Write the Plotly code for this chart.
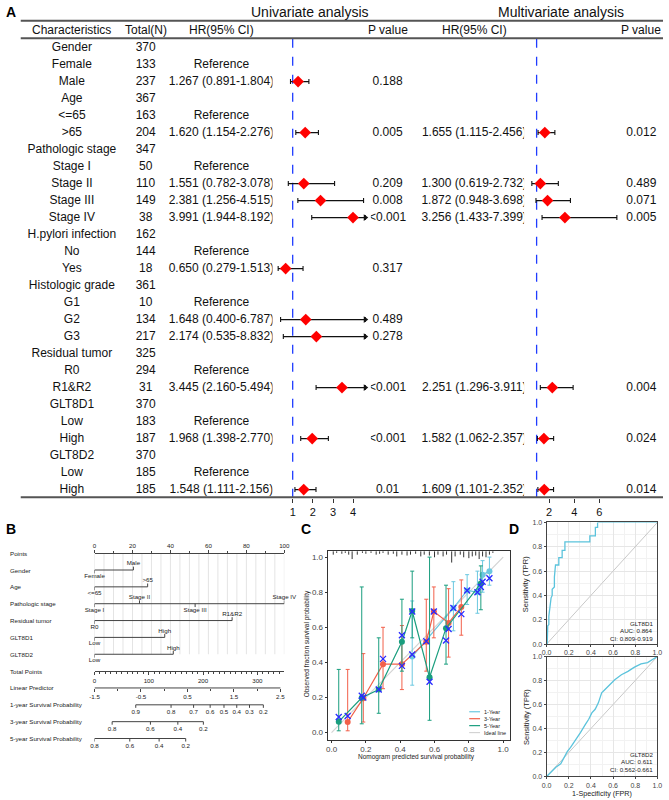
import plotly.graph_objects as go

W, H = 669, 800
FONT = "Arial, Liberation Sans, Helvetica, sans-serif"

# ---------------- Panel A data ----------------
characteristics = ["Gender", "Female", "Male", "Age", "<=65", ">65", "Pathologic stage", "Stage I",
                   "Stage II", "Stage III", "Stage IV", "H.pylori infection", "No", "Yes",
                   "Histologic grade", "G1", "G2", "G3", "Residual tumor", "R0", "R1&R2",
                   "GLT8D1", "Low", "High", "GLT8D2", "Low", "High"]
total_n = [370, 133, 237, 367, 163, 204, 347, 50, 110, 149, 38, 162, 144, 18, 361, 10, 134, 217,
           325, 294, 31, 370, 183, 187, 370, 185, 185]
uni_hr = [None, None, 1.267, None, None, 1.620, None, None, 1.551, 2.381, 3.991, None, None, 0.650,
          None, None, 1.648, 2.174, None, None, 3.445, None, None, 1.968, None, None, 1.548]
uni_lo = [None, None, 0.891, None, None, 1.154, None, None, 0.782, 1.256, 1.944, None, None, 0.279,
          None, None, 0.400, 0.535, None, None, 2.160, None, None, 1.398, None, None, 1.111]
uni_hi = [None, None, 1.804, None, None, 2.276, None, None, 3.078, 4.515, 8.192, None, None, 1.513,
          None, None, 6.787, 8.832, None, None, 5.494, None, None, 2.770, None, None, 2.156]
uni_p = ["", "", "0.188", "", "", "0.005", "", "", "0.209", "0.008", "<0.001", "", "", "0.317",
         "", "", "0.489", "0.278", "", "", "<0.001", "", "", "<0.001", "", "", "0.01"]
reference_idx = [1, 4, 7, 12, 15, 19, 22, 25]
multi_hr = [None, None, None, None, None, 1.655, None, None, 1.300, 1.872, 3.256, None, None, None,
            None, None, None, None, None, None, 2.251, None, None, 1.582, None, None, 1.609]
multi_lo = [None, None, None, None, None, 1.115, None, None, 0.619, 0.948, 1.433, None, None, None,
            None, None, None, None, None, None, 1.296, None, None, 1.062, None, None, 1.101]
multi_hi = [None, None, None, None, None, 2.456, None, None, 2.732, 3.698, 7.399, None, None, None,
            None, None, None, None, None, None, 3.911, None, None, 2.357, None, None, 2.352]
multi_p = ["", "", "", "", "", "0.012", "", "", "0.489", "0.071", "0.005", "", "", "",
           "", "", "", "", "", "", "0.004", "", "", "0.024", "", "", "0.014"]
uni_ticks = [1, 2, 3, 4]
multi_ticks = [2, 4, 6]
uni_clip = 4.6

# ---------------- Panel B (nomogram) data ----------------
nomo_rows = ["Points", "Gender", "Age", "Pathologic stage", "Residual tumor", "GLT8D1", "GLT8D2",
             "Total Points", "Linear Predictor", "1-year Survival Probability",
             "3-year Survival Probability", "5-year Survival Probability"]
nomo_levels = {
    "Gender": (["Female", "Male"], [0, 20.5]),
    "Age": (["<=65", ">65"], [0, 28]),
    "Pathologic stage": (["Stage I", "Stage II", "Stage III", "Stage IV"], [0, 23.7, 53, 100]),
    "Residual tumor": (["R0", "R1&R2"], [0, 72.5]),
    "GLT8D1": (["Low", "High"], [0, 37]),
    "GLT8D2": (["Low", "High"], [0, 41.5]),
}
points_ticks = [0, 20, 40, 60, 80, 100]
total_ticks = [0, 100, 200, 300]
lp_ticks = [-1.5, -0.5, 0.5, 1.5, 2.5]
surv1_labels = ["0.9", "0.8", "0.7", "0.6", "0.5", "0.4", "0.3", "0.2"]
surv1_pos = [76, 141, 182.5, 213, 238.5, 262, 285.5, 311]     # in total points
surv3_labels = ["0.8", "0.6", "0.4", "0.2"]
surv3_pos = [32.5, 103, 153.5, 200.5]
surv5_labels = ["0.8", "0.6", "0.4", "0.2"]
surv5_pos = [0, 65, 119, 168]

# ---------------- Panel C (calibration) data ----------------
cal1_x = [0.47, 0.71, 0.79, 0.85, 0.88, 0.92]
cal1_y = [0.433, 0.71, 0.81, 0.80, 0.90, 0.92]
cal1_lo = [0.27, 0.58, 0.73, 0.68, 0.80, 0.84]
cal1_hi = [0.75, 0.86, 0.90, 0.92, 0.98, 1.0]
cal1_bc = [0.445, 0.71, 0.81, 0.80, 0.86, 0.88]
cal3_x = [0.094, 0.185, 0.30, 0.41, 0.552, 0.596, 0.682, 0.756]
cal3_y = [0.06, 0.196, 0.39, 0.39, 0.518, 0.69, 0.625, 0.716]
cal3_lo = [0.01, 0.06, 0.25, 0.245, 0.35, 0.54, 0.43, 0.555]
cal3_hi = [0.36, 0.45, 0.60, 0.61, 0.76, 0.83, 0.82, 0.87]
cal3_bc = [0.094, 0.20, 0.42, 0.38, 0.52, 0.69, 0.59, 0.675]
cal5_x = [0.042, 0.176, 0.275, 0.41, 0.47, 0.571, 0.667, 0.87]
cal5_y = [0.062, 0.198, 0.245, 0.518, 0.693, 0.315, 0.595, 0.85]
cal5_lo = [0.01, 0.05, 0.11, 0.35, 0.54, 0.07, 0.39, 0.70]
cal5_hi = [0.36, 0.83, 0.54, 0.76, 0.92, 1.0, 0.84, 0.95]
cal5_bc = [0.089, 0.21, 0.245, 0.555, 0.69, 0.29, 0.525, 0.83]
legend_names = ["1-Year", "3-Year", "5-Year", "Ideal line"]
rug_x = [0.01, 0.03, 0.06, 0.08, 0.1, 0.12, 0.15, 0.18, 0.2, 0.23, 0.26, 0.28, 0.3, 0.33, 0.36,
         0.38, 0.41, 0.44, 0.46, 0.49, 0.52, 0.54, 0.57, 0.6, 0.62, 0.65, 0.67, 0.7, 0.72, 0.75,
         0.77, 0.8, 0.82, 0.84, 0.86, 0.88, 0.9, 0.92, 0.94]
rug_h = [0.02, 0.01, 0.015, 0.01, 0.02, 0.045, 0.02, 0.01, 0.015, 0.01, 0.02, 0.015, 0.01, 0.02,
         0.015, 0.03, 0.02, 0.025, 0.02, 0.015, 0.03, 0.02, 0.025, 0.035, 0.02, 0.03, 0.02, 0.065,
         0.03, 0.02, 0.035, 0.04, 0.03, 0.025, 0.045, 0.03, 0.035, 0.02, 0.01]

# ---------------- Panel D (ROC) data ----------------
roc1_fpr = [0, 0.005, 0.01, 0.02, 0.02, 0.03, 0.04, 0.05, 0.05, 0.07, 0.07, 0.08, 0.11, 0.11, 0.14,
            0.14, 0.165, 0.165, 0.39, 0.39, 0.44, 0.44, 0.46, 0.46, 1.0]
roc1_tpr = [0, 0.0, 0.15, 0.16, 0.23, 0.30, 0.38, 0.40, 0.45, 0.47, 0.55, 0.65, 0.65, 0.71, 0.71,
            0.77, 0.77, 0.84, 0.84, 0.89, 0.89, 0.96, 0.96, 1.0, 1.0]
roc2_fpr = [0, 0.04, 0.083, 0.127, 0.157, 0.186, 0.216, 0.26, 0.305, 0.35, 0.38, 0.408, 0.438,
            0.467, 0.497, 0.527, 0.571, 0.615, 0.675, 0.734, 0.793, 0.852, 0.911, 0.956, 1.0]
roc2_tpr = [0, 0.036, 0.077, 0.105, 0.16, 0.207, 0.242, 0.30, 0.366, 0.435, 0.477, 0.53, 0.56,
            0.614, 0.697, 0.725, 0.766, 0.807, 0.848, 0.876, 0.912, 0.939, 0.95, 0.972, 1.0]
roc_labels = [["GLT8D1", "AUC: 0.864", "CI: 0.809-0.919"], ["GLT8D2", "AUC: 0.611", "CI: 0.562-0.661"]]

# ---------------- helpers (layout geometry in pixels) ----------------
def px(x):
    return x / W

def py(y):
    return 1 - y / H

fig = go.Figure()
n = len(characteristics)

# ====== Panel A: table (x: pixel columns, y: row index) ======
ROW0, ROWH = 44.0, 17.15
A_TOP, A_BOT = 35, 498
yA_range = [(A_BOT - ROW0) / ROWH, (A_TOP - ROW0) / ROWH]
rows = list(range(n))

def table_text(xcol, texts):
    fig.add_trace(go.Scatter(x=[xcol] * n, y=rows, text=texts, mode="text", textposition="middle center",
                             textfont=dict(size=12, color="#111", family=FONT), hoverinfo="skip",
                             showlegend=False, xaxis="x", yaxis="y", cliponaxis=False))

table_text(68, characteristics)
table_text(143, [str(v) for v in total_n])
uni_txt = []
for i in range(n):
    if uni_hr[i] is not None:
        uni_txt.append(f"{uni_hr[i]:.3f} ({uni_lo[i]:.3f}-{uni_hi[i]:.3f})")
    elif i in reference_idx:
        uni_txt.append("Reference")
    else:
        uni_txt.append("")
table_text(220, uni_txt)
table_text(389, uni_p)
multi_txt = [f"{multi_hr[i]:.3f} ({multi_lo[i]:.3f}-{multi_hi[i]:.3f})" if multi_hr[i] is not None else ""
             for i in range(n)]
table_text(477, multi_txt)
table_text(647, multi_p)

def ann(x, y, text, size=12, bold=False, color="#111", xanchor="center", angle=0):
    fig.add_annotation(x=px(x), y=py(y), xref="paper", yref="paper", text=f"<b>{text}</b>" if bold else text,
                       showarrow=False, font=dict(size=size, color=color, family=FONT),
                       xanchor=xanchor, yanchor="middle", textangle=angle)

ann(6, 8, "A", 14, True, "#000")
ann(310, 8, "Univariate analysis", 14)
ann(565, 8, "Multivariate analysis", 14)
for xc, t in [(68, "Characteristics"), (143, "Total(N)"), (220, "HR(95% CI)"), (389, "P value"),
              (477, "HR(95% CI)"), (647, "P value")]:
    ann(xc, 26, t, 12)

for yline in (17, 34.5, 497.5):
    fig.add_shape(type="line", xref="paper", yref="paper", x0=px(16), x1=px(669), y0=py(yline), y1=py(yline),
                  line=dict(color="#555", width=2))

def forest(hr, lo, hi, xa, clip=None):
    xs, ys, ep, em, arrows = [], [], [], [], []
    for i in range(n):
        if hr[i] is None:
            continue
        xs.append(hr[i]); ys.append(i)
        top = hi[i]
        if clip is not None and hi[i] > clip:
            top = clip
            arrows.append((clip, i))
        ep.append(top - hr[i]); em.append(hr[i] - lo[i])
    fig.add_trace(go.Scatter(x=[1, 1], y=yA_range, mode="lines", xaxis=xa, yaxis="y",
                             line=dict(color="#1f3cff", width=1.3, dash="dash"), hoverinfo="skip",
                             showlegend=False, cliponaxis=False))
    fig.add_trace(go.Scatter(x=xs, y=ys, mode="markers", xaxis=xa, yaxis="y",
                             marker=dict(symbol="diamond", size=9, color="#ff0000"),
                             error_x=dict(type="data", symmetric=False, array=ep, arrayminus=em,
                                          color="#111", thickness=1.1, width=2.5),
                             showlegend=False, hoverinfo="skip", cliponaxis=False))
    if arrows:
        fig.add_trace(go.Scatter(x=[a[0] for a in arrows], y=[a[1] for a in arrows], mode="markers",
                                 xaxis=xa, yaxis="y",
                                 marker=dict(symbol="triangle-right", size=6, color="#111"),
                                 showlegend=False, hoverinfo="skip", cliponaxis=False))

forest(uni_hr, uni_lo, uni_hi, "x2", uni_clip)
forest(multi_hr, multi_lo, multi_hi, "x3")

# ====== Panel B: nomogram ======
NOMO_ROW0, NOMO_ROWH = 554.0, 17.0
B_TOP, B_BOT = 540, 752
yB_range = [(B_BOT - NOMO_ROW0) / NOMO_ROWH, (B_TOP - NOMO_ROW0) / NOMO_ROWH]
for i, r in enumerate(nomo_rows):
    ann(3, NOMO_ROW0 + NOMO_ROWH * i, r, 6.2, False, "#222", "left")
ann(6, 530, "B", 14, True, "#000")

gx, gy = [], []
for v in range(0, 101, 5):
    gx += [v, v, None]; gy += [0, 6, None]
fig.add_trace(go.Scatter(x=gx, y=gy, mode="lines", xaxis="x7", yaxis="y7",
                         line=dict(color="#e4e4e4", width=1), hoverinfo="skip", showlegend=False))

for ri, r in enumerate(nomo_rows):
    if r not in nomo_levels:
        continue
    labs, vals = nomo_levels[r]
    fig.add_trace(go.Scatter(x=[0, max(vals)], y=[ri, ri], mode="lines", xaxis="x7", yaxis="y7",
                             line=dict(color="#444", width=1), hoverinfo="skip", showlegend=False))
    tx, ty = [], []
    for k, v in enumerate(vals):
        d = 0.2 if k % 2 == 0 else -0.2
        tx += [v, v, None]; ty += [ri, ri + d, None]
    fig.add_trace(go.Scatter(x=tx, y=ty, mode="lines", xaxis="x7", yaxis="y7",
                             line=dict(color="#444", width=1), hoverinfo="skip", showlegend=False))
    fig.add_trace(go.Scatter(x=vals, y=[ri + (0.38 if k % 2 == 0 else -0.36) for k in range(len(vals))],
                             text=labs, mode="text", xaxis="x7", yaxis="y7", cliponaxis=False,
                             textfont=dict(size=6.2, color="#222", family=FONT),
                             hoverinfo="skip", showlegend=False))

lp_row = nomo_rows.index("Linear Predictor")
fig.add_trace(go.Scatter(x=[lp_ticks[0], lp_ticks[-1]], y=[lp_row, lp_row], mode="lines", xaxis="x9", yaxis="y7",
                         line=dict(color="#444", width=1), hoverinfo="skip", showlegend=False, cliponaxis=False))

for rname, labs, pos in [("1-year Survival Probability", surv1_labels, surv1_pos),
                         ("3-year Survival Probability", surv3_labels, surv3_pos),
                         ("5-year Survival Probability", surv5_labels, surv5_pos)]:
    ri = nomo_rows.index(rname)
    fig.add_trace(go.Scatter(x=[pos[0], pos[-1]], y=[ri, ri], mode="lines", xaxis="x8", yaxis="y7",
                             line=dict(color="#444", width=1), hoverinfo="skip", showlegend=False, cliponaxis=False))
    tx, ty = [], []
    for v in pos:
        tx += [v, v, None]; ty += [ri, ri + 0.18, None]
    fig.add_trace(go.Scatter(x=tx, y=ty, mode="lines", xaxis="x8", yaxis="y7",
                             line=dict(color="#444", width=1), hoverinfo="skip", showlegend=False, cliponaxis=False))
    fig.add_trace(go.Scatter(x=pos, y=[ri + 0.45] * len(pos), text=labs, mode="text", xaxis="x8", yaxis="y7",
                             textfont=dict(size=6.2, color="#222", family=FONT), cliponaxis=False,
                             hoverinfo="skip", showlegend=False))

# ====== Panel C: calibration ======
ann(306, 530, "C", 14, True, "#000")
fig.add_trace(go.Scatter(x=[0, 1], y=[0, 1], mode="lines", xaxis="x4", yaxis="y4",
                         line=dict(color="#d3d3d3", width=1.2), hoverinfo="skip", showlegend=False))
rx, ry = [], []
for xv, hv in zip(rug_x, rug_h):
    rx += [xv, xv, None]; ry += [1.034, 1.034 - hv, None]
fig.add_trace(go.Scatter(x=rx, y=ry, mode="lines", xaxis="x4", yaxis="y4",
                         line=dict(color="#333", width=1), hoverinfo="skip", showlegend=False))

COL1, COL3, COL5, COLI = "#6cc8e0", "#f2604a", "#1a9e7e", "#d3d3d3"
series = [("1-Year", COL1, cal1_x, cal1_y, cal1_lo, cal1_hi, cal1_bc),
          ("3-Year", COL3, cal3_x, cal3_y, cal3_lo, cal3_hi, cal3_bc),
          ("5-Year", COL5, cal5_x, cal5_y, cal5_lo, cal5_hi, cal5_bc)]
for name, col, xs, ys, lo, hi, bc in series:
    fig.add_trace(go.Scatter(x=xs, y=ys, mode="lines+markers", xaxis="x4", yaxis="y4", name=name,
                             line=dict(color=col, width=1.2), marker=dict(color=col, size=6),
                             error_y=dict(type="data", symmetric=False,
                                          array=[h - y for h, y in zip(hi, ys)],
                                          arrayminus=[y - l for y, l in zip(ys, lo)],
                                          color=col, thickness=1, width=2),
                             hoverinfo="skip", showlegend=False))
for name, col, xs, ys, lo, hi, bc in series:
    fig.add_trace(go.Scatter(x=xs, y=bc, mode="markers", xaxis="x4", yaxis="y4",
                             marker=dict(symbol="x-thin", size=6, line=dict(color="#2a2aff", width=1.3)),
                             hoverinfo="skip", showlegend=False))
for k, (nm, col) in enumerate(zip(legend_names, [COL1, COL3, COL5, COLI])):
    yy = 714 + 7 * k
    fig.add_shape(type="line", xref="paper", yref="paper", x0=px(472), x1=px(483), y0=py(yy), y1=py(yy),
                  line=dict(color=col, width=1.2))
    ann(485, yy, nm, 5.5, False, "#222", "left")
ann(307, 645, "Observed fraction survival probability", 6.5, False, "#222", "center", -90)
ann(418, 760, "Nomogram predicted survival probability", 6.5, False, "#222")

# ====== Panel D: ROC ======
ann(518, 530, "D", 14, True, "#000")
for k, (fx, ty_, xa, ya, ymid, ylab) in enumerate([(roc1_fpr, roc1_tpr, "x5", "y5", 585, 633),
                                                   (roc2_fpr, roc2_tpr, "x6", "y6", 719, 765)]):
    fig.add_trace(go.Scatter(x=[0, 1], y=[0, 1], mode="lines", xaxis=xa, yaxis=ya,
                             line=dict(color="#c8c8c8", width=1), hoverinfo="skip", showlegend=False))
    fig.add_trace(go.Scatter(x=fx, y=ty_, mode="lines", xaxis=xa, yaxis=ya,
                             line=dict(color="#5bc3dc", width=1.3), hoverinfo="skip", showlegend=False))
    ann(530, ymid, "Sensitivity (TPR)", 7.5, False, "#222", "center", -90)
    for j, t in enumerate(roc_labels[k]):
        ann(661, ylab - 8 + 7.5 * j, t, 6.2, False, "#222", "right")
ann(607, 796.5, "1-Specificity (FPR)", 7.2, False, "#222")

# ---------------- axes ----------------
hidden = dict(visible=False, showgrid=False, zeroline=False)
tickfont_small = dict(size=6.2, color="#222", family=FONT)

layout = dict(
    width=W, height=H, margin=dict(l=0, r=0, t=0, b=0),
    paper_bgcolor="white", plot_bgcolor="white", showlegend=False,
    font=dict(family=FONT),
    xaxis=dict(domain=[0, 1], range=[0, W], anchor="y", **hidden),
    yaxis=dict(domain=[py(A_BOT), py(A_TOP)], range=yA_range, anchor="x", **hidden),
    xaxis2=dict(domain=[px(272), px(372)], range=[0, 100 / 20.5], anchor="y", showgrid=False,
                zeroline=False, showline=False, tickvals=uni_ticks, ticks="outside", ticklen=4,
                tickcolor="#333", tickfont=dict(size=11, color="#111", family=FONT)),
    xaxis3=dict(domain=[px(527.75), px(630)], range=[0, 102.25 / 12.75], anchor="y", showgrid=False,
                zeroline=False, showline=False, tickvals=multi_ticks, ticks="outside", ticklen=4,
                tickcolor="#333", tickfont=dict(size=11, color="#111", family=FONT)),
    xaxis7=dict(domain=[px(91), px(284)], range=[0, 100], anchor="free", position=py(NOMO_ROW0),
                side="top", showgrid=False, zeroline=False, showline=True, linecolor="#444", linewidth=1,
                tickvals=points_ticks, ticks="outside", ticklen=3, tickcolor="#444",
                minor=dict(dtick=10, ticklen=2, tickcolor="#444", ticks="outside"),
                tickfont=tickfont_small),
    yaxis7=dict(domain=[py(B_BOT), py(B_TOP)], range=yB_range, anchor="x7", **hidden),
    xaxis8=dict(overlaying="x7", range=[0, 193 / 0.552], anchor="free", position=py(NOMO_ROW0 + 7 * NOMO_ROWH),
                side="bottom", showgrid=False, zeroline=False, showline=True, linecolor="#444", linewidth=1,
                tickvals=total_ticks, ticks="outside", ticklen=3, tickcolor="#444",
                minor=dict(dtick=10, ticklen=2, tickcolor="#444", ticks="outside"),
                tickfont=tickfont_small),
    xaxis9=dict(overlaying="x7", range=[-1.5, -1.5 + 193 / 47.25], anchor="free",
                position=py(NOMO_ROW0 + 8 * NOMO_ROWH), side="bottom", showgrid=False, zeroline=False,
                showline=False, tickvals=lp_ticks, ticktext=[("%.1f" % v) for v in lp_ticks],
                ticks="outside", ticklen=3, tickcolor="#444",
                minor=dict(dtick=0.5, ticklen=2, tickcolor="#444", ticks="outside"),
                tickfont=tickfont_small),
    xaxis4=dict(domain=[px(328), px(513)], range=[(328 - 332) / 174.5, (513 - 332) / 174.5], anchor="y4",
                showgrid=False, zeroline=False, showline=True, mirror=True, linecolor="#333", linewidth=1,
                tickvals=[0, 0.2, 0.4, 0.6, 0.8, 1.0], ticktext=["0.0", "0.2", "0.4", "0.6", "0.8", "1.0"],
                ticks="outside", ticklen=2, tickcolor="#333",
                tickfont=dict(size=8, color="#444", family=FONT)),
    yaxis4=dict(domain=[py(742), py(552)], range=[(735 - 742) / 177, (735 - 552) / 177], anchor="x4",
                showgrid=False, zeroline=False, showline=True, mirror=True, linecolor="#333", linewidth=1,
                tickvals=[0, 0.2, 0.4, 0.6, 0.8, 1.0], ticktext=["0.0", "0.2", "0.4", "0.6", "0.8", "1.0"],
                ticks="outside", ticklen=2, tickcolor="#333",
                tickfont=dict(size=8, color="#444", family=FONT)),
)
roc_ax = dict(range=[0, 1], showgrid=True, gridcolor="#e6e6e6", gridwidth=0.8, zeroline=False,
              showline=True, mirror=True, linecolor="#444", linewidth=1,
              tickvals=[0, 0.2, 0.4, 0.6, 0.8, 1.0], ticktext=["0.0", "0.2", "0.4", "0.6", "0.8", "1.0"],
              ticks="outside", ticklen=2, tickcolor="#444",
              minor=dict(dtick=0.1, showgrid=True, gridcolor="#f2f2f2", gridwidth=0.5),
              tickfont=dict(size=7, color="#444", family=FONT))
layout["xaxis5"] = dict(domain=[px(550.7), px(663.3)], anchor="y5", **roc_ax)
layout["yaxis5"] = dict(domain=[py(645.7), py(523)], anchor="x5", **roc_ax)
layout["xaxis6"] = dict(domain=[px(550.7), px(663.3)], anchor="y6", **roc_ax)
layout["yaxis6"] = dict(domain=[py(779.3), py(658.3)], anchor="x6", **roc_ax)
fig.update_layout(**layout)

fig.write_html("out.html", config={"displayModeBar": False},
               post_script="document.body.style.margin='0';document.body.style.overflow='hidden';")
